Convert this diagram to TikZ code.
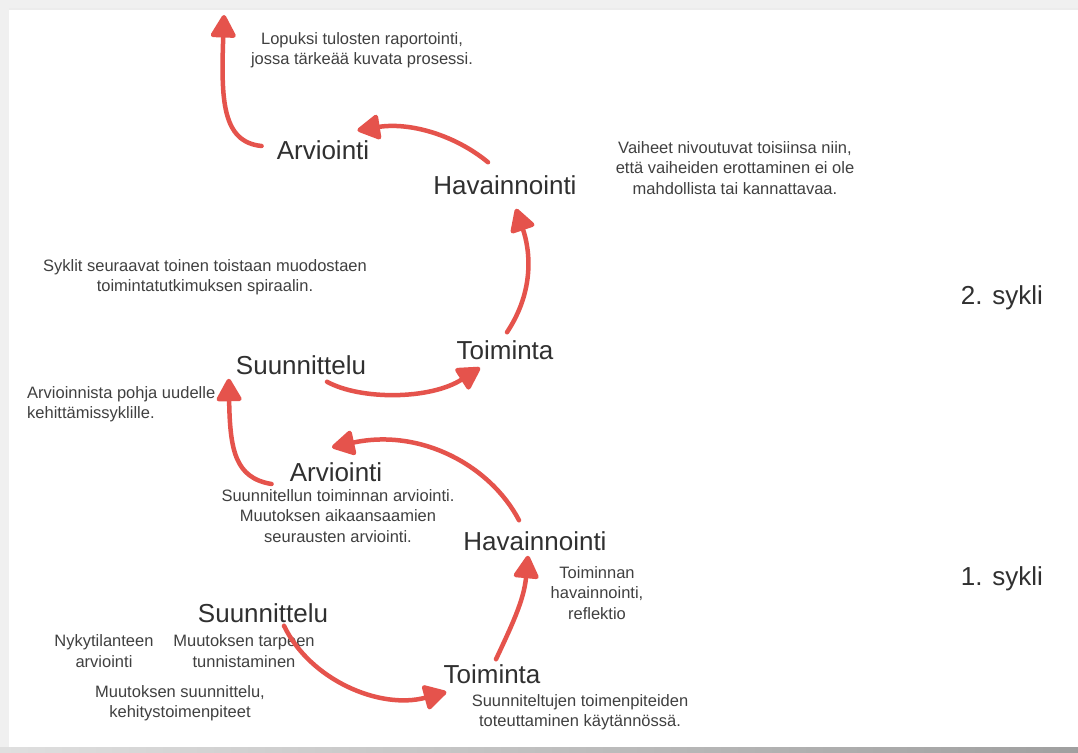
\documentclass[tikz,border=0pt]{standalone}
\usepackage{fontspec}
\setmainfont{Liberation Sans}
\usetikzlibrary{arrows.meta}
\definecolor{redline}{HTML}{E5534C}
\definecolor{txt}{HTML}{303030}
\definecolor{smalltxt}{HTML}{404040}
\definecolor{framegray}{HTML}{F0F0F0}
\begin{document}
\begin{tikzpicture}[x=1pt,y=-1pt,
  big/.style={inner sep=0pt, text=txt, font=\fontsize{26}{30}\selectfont},
  note/.style={inner sep=0pt, text=smalltxt, align=center, font=\fontsize{16.5}{20.5}\selectfont},
  arr/.style={draw=redline, line width=4.5pt, line cap=round,
    -{Triangle[length=25pt,width=27pt,round]}}]
\useasboundingbox (0,0) rectangle (1078,752);
% frame
\fill[framegray] (0,0) rectangle (1078,752);
\fill[gray!15] (9,8) rectangle (1078,10);
\fill[white] (9,10) rectangle (1078,747);
\shade[left color=gray!25, right color=gray!75] (0,747) rectangle (1078,752);

% stage nodes
\node[big] (arv2) at (323,150) {Arviointi};
\node[big] (hav2) at (505,185) {Havainnointi};
\node[big] (toi2) at (505,350) {Toiminta};
\node[big] (suu2) at (301,365) {Suunnittelu};
\node[big] (arv1) at (336,472) {Arviointi};
\node[big] (hav1) at (535,541) {Havainnointi};
\node[big] (suu1) at (263,613) {Suunnittelu};
\node[big] (toi1) at (492,674) {Toiminta};
\node[big,anchor=east] (s2) at (1043,298) {2. sykli};
\node[big,anchor=east] (s1) at (1043,579) {1. sykli};

% notes
\node[note] (n1) at (362,50) {Lopuksi tulosten raportointi,\\jossa tärkeää kuvata prosessi.};
\node[note] (n2) at (735,168) {Vaiheet nivoutuvat toisiinsa niin,\\että vaiheiden erottaminen ei ole\\mahdollista tai kannattavaa.};
\node[note] (n3) at (205,277) {Syklit seuraavat toinen toistaan muodostaen\\toimintatutkimuksen spiraalin.};
\node[note,align=left,anchor=west] (n4) at (27,404) {Arvioinnista pohja uudelle\\kehittämissyklille.};
\node[note] (n5) at (338,516) {Suunnitellun toiminnan arviointi.\\Muutoksen aikaansaamien\\seurausten arviointi.};
\node[note] (n6) at (597,593) {Toiminnan\\havainnointi,\\reflektio};
\node[note] (n7) at (104,651) {Nykytilanteen\\arviointi};
\node[note] (n8) at (244,651) {Muutoksen tarpeen\\tunnistaminen};
\node[note] (n9) at (180,703) {Muutoksen suunnittelu,\\kehitystoimenpiteet};
\node[note] (n10) at (580,712) {Suunniteltujen toimenpiteiden\\toteuttaminen käytännössä.};

\coordinate (top) at (224,15);

% arrows
\draw[arr] ([shift={(-15,-4)}]arv2.west) .. controls (222,142) and (221,100) .. (top);
\draw[arr] ([shift={(-17,-13)}]hav2.north) .. controls (455,135) and (410,122) .. ([shift={(-12,-10)}]arv2.north east);
\draw[arr] ([shift={(2,-8)}]toi2.north) .. controls (535,290) and (530,250) .. ([shift={(11,14)}]hav2.south);
\draw[arr] ([shift={(26,7)}]suu2.south) .. controls (360,400) and (430,400) .. ([shift={(-25,8)}]toi2.south);
\draw[arr] ([shift={(-18,12)}]arv1.west) .. controls (235,478) and (230,450) .. ([shift={(-7,4)}]suu2.south west);
\draw[arr] ([shift={(-16,-11)}]hav1.north) .. controls (490,465) and (420,428) .. ([shift={(-4,-15)}]arv1.north);
\draw[arr] ([shift={(4,-5)}]toi1.north) .. controls (512,625) and (524,600) .. ([shift={(-7,5)}]hav1.south);
\draw[arr] ([shift={(21,3)}]suu1.south) .. controls (310,680) and (380,710) .. ([shift={(3,18)}]toi1.west);
\end{tikzpicture}
\end{document}
